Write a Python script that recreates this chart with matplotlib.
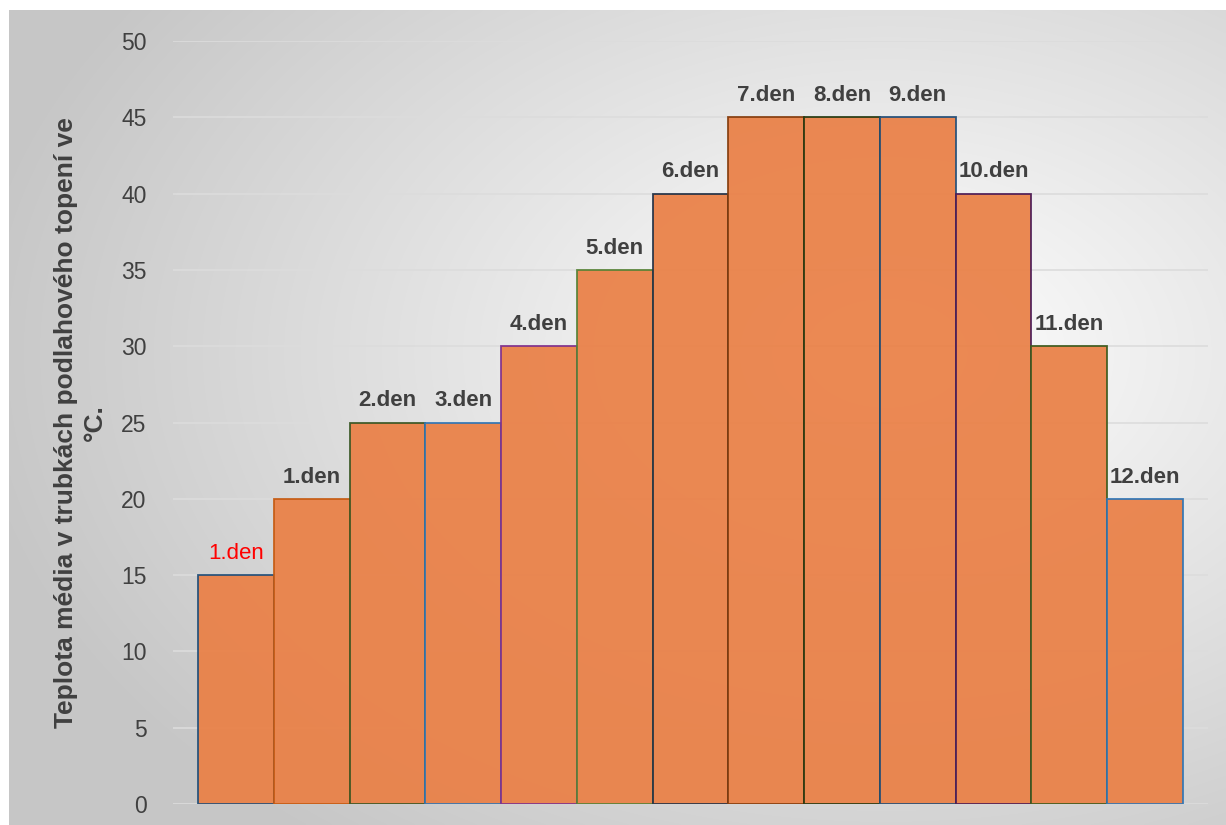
import numpy as np
import matplotlib
matplotlib.use('Agg')
import matplotlib.pyplot as plt

plt.rcParams['font.family'] = ['Liberation Sans', 'DejaVu Sans']

labels = ['1.den', '1.den', '2.den', '3.den', '4.den', '5.den', '6.den',
          '7.den', '8.den', '9.den', '10.den', '11.den', '12.den']
values = [15, 20, 25, 25, 30, 35, 40, 45, 45, 45, 40, 30, 20]
edge_colors = ['#1F4E79', '#C55A11', '#375623', '#2E75B6', '#7E2F8E', '#548235',
               '#1F3046', '#843C0C', '#22380F', '#1F4E79', '#4B1A55', '#3B5A1C',
               '#2E75B6']
label_colors = ['#FF0000'] + ['#404040'] * 12
label_weights = ['normal'] + ['bold'] * 12
yticks = [0, 5, 10, 15, 20, 25, 30, 35, 40, 45, 50]

W, H = 1226, 825
fig = plt.figure(figsize=(W / 100, H / 100), dpi=100)
fig.patch.set_facecolor('white')

# radial gradient background panel
bg = fig.add_axes([9 / W, 0, 1 - 9 / W, 1 - 10 / H])
gy, gx = np.mgrid[0:400, 0:600]
cx, cy = 0.72 * 600, 0.42 * 400
d = np.sqrt(((gx - cx) / 600) ** 2 + ((gy - cy) / 400) ** 2)
d = np.clip(d / 0.75, 0, 1)
shade = 1.0 - 0.22 * d
img = np.dstack([shade, shade, shade])
bg.imshow(img, aspect='auto', extent=[0, 1, 0, 1], interpolation='bilinear')
bg.set_axis_off()

ax = fig.add_axes([173 / W, 21 / H, (1208 - 173) / W, (804 - 41) / H])
ax.set_facecolor('none')

x = np.arange(len(values))
bars = ax.bar(x, values, width=1.0, color='#EA8046', alpha=0.93,
              edgecolor=edge_colors, linewidth=1.3, zorder=3)
for b, ec in zip(bars, edge_colors):
    b.set_edgecolor(ec)

for xi, v, lab, c, w in zip(x, values, labels, label_colors, label_weights):
    ax.annotate(lab, (xi, v), xytext=(0, 8), textcoords='offset points',
                ha='center', va='bottom', fontsize=16, color=c,
                fontweight=w, zorder=4)

ax.set_xlim(-0.5 - 0.33, len(values) - 0.5 + 0.33)
ax.set_ylim(0, 50)
ax.set_yticks(yticks)
ax.set_xticks([])
ax.tick_params(axis='y', length=0, pad=19, labelsize=16.5, labelcolor='#404040')
ax.grid(axis='y', color='#dcdcdc', linewidth=1.2, zorder=0)
ax.set_axisbelow(True)
for s in ax.spines.values():
    s.set_visible(False)

ax.set_ylabel('Teplota média v trubkách podlahového topení ve\n°C.',
              fontsize=19, fontweight='bold', color='#404040',
              linespacing=1.3, labelpad=10)

fig.savefig('out.png', dpi=100)
